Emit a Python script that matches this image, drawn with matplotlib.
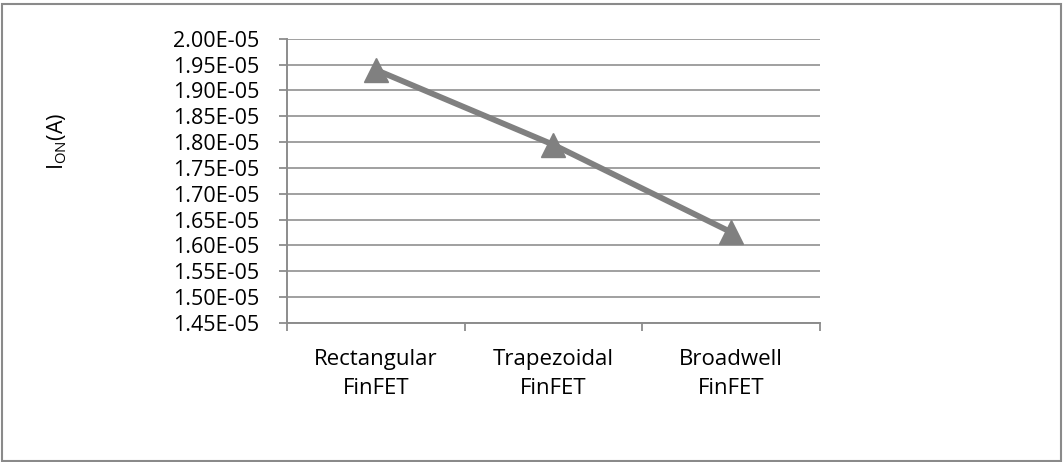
import matplotlib
matplotlib.use("Agg")
import matplotlib.pyplot as plt
from matplotlib.patches import Rectangle

categories = ["Rectangular\nFinFET", "Trapezoidal\nFinFET", "Broadwell\nFinFET"]
ion_values = [1.940e-05, 1.795e-05, 1.626e-05]
y_ticks = [1.45e-05, 1.50e-05, 1.55e-05, 1.60e-05, 1.65e-05, 1.70e-05,
           1.75e-05, 1.80e-05, 1.85e-05, 1.90e-05, 1.95e-05, 2.00e-05]

plt.rcParams["font.family"] = ["Open Sans", "DejaVu Sans"]
plt.rcParams["mathtext.fontset"] = "custom"
plt.rcParams["mathtext.rm"] = "Open Sans"

GRID = "#a0a0a0"
AXIS = "#8c8c8c"
LINE = "#808080"

fig = plt.figure(figsize=(10.63, 4.62), dpi=100)
ax = fig.add_axes([0.270, 0.301, 0.501, 0.615])

xs = list(range(1, len(categories) + 1))
ax.plot(xs, ion_values, color=LINE, linewidth=4.2, marker="^",
        markersize=17, markerfacecolor=LINE, markeredgecolor=LINE, zorder=3)

ax.set_xlim(0.5, len(categories) + 0.5)
ax.set_ylim(y_ticks[0], y_ticks[-1])
ax.set_yticks(y_ticks)
ax.set_yticklabels([f"{v:.2E}" for v in y_ticks], fontsize=15.5)

# category boundaries carry the tick marks, labels sit in between
ax.set_xticks([x - 0.5 for x in xs] + [xs[-1] + 0.5])
ax.set_xticklabels([])
ax.set_xticks(xs, minor=True)
ax.set_xticklabels(categories, minor=True, fontsize=16, linespacing=1.5)
ax.tick_params(axis="x", which="major", length=6, width=1.3, color=AXIS, direction="out")
ax.tick_params(axis="x", which="minor", length=0, pad=19)
ax.tick_params(axis="y", length=6, width=1.3, color=AXIS, pad=14)

ax.grid(True, axis="y", color=GRID, linewidth=1.4)
ax.set_axisbelow(True)
for side in ("top", "right"):
    ax.spines[side].set_visible(False)
for side in ("left", "bottom"):
    ax.spines[side].set_color(AXIS)
    ax.spines[side].set_linewidth(1.4)

fig.text(0.054, 0.695, r"I$_{\mathrm{ON}}$(A)", rotation=90, ha="center", va="center",
         fontsize=15.5)

fig.patches.append(Rectangle((0.002, 0.002), 0.996, 0.989, transform=fig.transFigure,
                             fill=False, edgecolor="#8a8a8a", linewidth=1.5))

fig.savefig("out.png", dpi=100, facecolor="white")
